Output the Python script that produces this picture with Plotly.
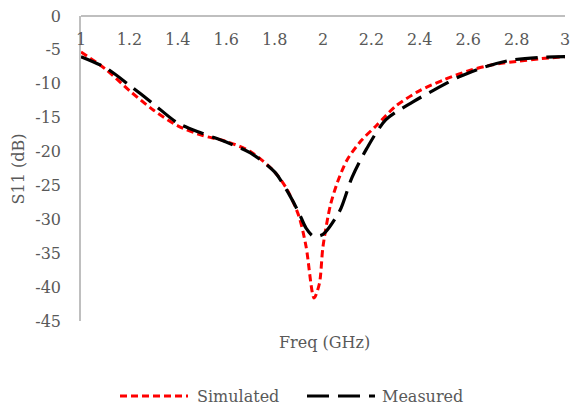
import plotly.graph_objects as go

sim_freq = [1.0, 1.1, 1.2, 1.3, 1.4, 1.5, 1.6, 1.7, 1.8, 1.85, 1.9, 1.93, 1.963,
            1.985, 2.0, 2.03, 2.06, 2.1, 2.16, 2.22, 2.3, 2.4, 2.5, 2.6, 2.7, 2.8, 2.9, 3.0]
sim_s11 = [-5.3, -7.8, -11.0, -13.9, -16.2, -17.6, -18.5, -20.0, -23.0, -25.5, -29.5, -34.0, -41.6,
           -39.5, -34.0, -28.0, -24.5, -21.2, -18.3, -16.2, -13.3, -11.0, -9.4, -8.1, -7.2, -6.7, -6.3, -6.0]

meas_freq = [1.0, 1.1, 1.2, 1.3, 1.4, 1.5, 1.6, 1.7, 1.8, 1.85, 1.9, 1.93, 1.96,
             1.99, 2.01, 2.07, 2.12, 2.18, 2.26, 2.37, 2.48, 2.56, 2.67, 2.78, 2.9, 3.0]
meas_s11 = [-6.0, -7.6, -10.2, -13.0, -15.8, -17.3, -18.6, -20.2, -23.0, -25.7, -29.0, -31.3, -32.5,
            -32.4, -31.9, -28.7, -23.8, -19.6, -15.3, -12.7, -10.5, -9.0, -7.5, -6.5, -6.1, -6.0]

x_ticks = [1, 1.2, 1.4, 1.6, 1.8, 2, 2.2, 2.4, 2.6, 2.8, 3]
x_labels = ["1", "1.2", "1.4", "1.6", "1.8", "2", "2.2", "2.4", "2.6", "2.8", "3"]
y_ticks = [0, -5, -10, -15, -20, -25, -30, -35, -40, -45]
y_labels = ["0", "-5", "-10", "-15", "-20", "-25", "-30", "-35", "-40", "-45"]

series_names = ["Simulated", "Measured"]
series_colors = ["#FF0000", "#000000"]
series_dash = ["7px,4px", "22px,9px"]
series_width = [3, 3.2]

FONT = "DejaVu Serif"
GRAY = "#595959"
FS = 16

fig = go.Figure()
fig.add_trace(go.Scatter(x=sim_freq, y=sim_s11, mode="lines", name=series_names[0], showlegend=False,
                         line=dict(color=series_colors[0], width=series_width[0], dash=series_dash[0],
                                   shape="spline", smoothing=0.8)))
fig.add_trace(go.Scatter(x=meas_freq, y=meas_s11, mode="lines", name=series_names[1], showlegend=False,
                         line=dict(color=series_colors[1], width=series_width[1], dash=series_dash[1],
                                   shape="spline", smoothing=0.8)))

# plot area in pixels: x 81..565, y 16..321
L, R, T, B = 81, 565, 16, 321
def px_x(p):
    return (p - L) / (R - L)
def px_y(p):
    return (B - p) / (B - T)

shapes = []
annotations = [
    dict(text="S11 (dB)", x=px_x(18), xref="paper", y=0.5, yref="paper", showarrow=False,
         textangle=-90, xanchor="center", yanchor="middle", font=dict(family=FONT, size=FS, color=GRAY)),
    dict(text="Freq (GHz)", x=px_x(324), xref="paper", y=px_y(342), yref="paper", showarrow=False,
         xanchor="center", yanchor="middle", font=dict(family=FONT, size=FS, color=GRAY)),
]
# manual legend
leg_y = px_y(396)
leg_items = [(120, 188, 195), (307, 375, 380)]
for (x0, x1, xt), name, col, dash, w in zip(leg_items, series_names, series_colors, series_dash, series_width):
    shapes.append(dict(type="line", xref="paper", yref="paper", x0=px_x(x0), x1=px_x(x1), y0=leg_y, y1=leg_y,
                       line=dict(color=col, width=w, dash=dash)))
    annotations.append(dict(text=name, x=px_x(xt), xref="paper", y=leg_y, yref="paper", showarrow=False,
                            xanchor="left", yanchor="middle", font=dict(family=FONT, size=FS, color=GRAY)))

fig.update_layout(
    width=571, height=408,
    margin=dict(l=L, r=571 - R, t=T, b=408 - B, autoexpand=False),
    plot_bgcolor="white", paper_bgcolor="white",
    font=dict(family=FONT, size=FS, color=GRAY),
    showlegend=False,
    xaxis=dict(range=[1, 3], tickvals=x_ticks, ticktext=x_labels, side="bottom",
               anchor="free", position=1, ticklabelstandoff=9,
               showline=True, linecolor="#BFBFBF", linewidth=1.5, mirror=False,
               showgrid=False, zeroline=False, ticks="",
               tickfont=dict(family=FONT, size=FS, color=GRAY)),
    yaxis=dict(range=[-45, 0], tickvals=y_ticks, ticktext=y_labels, showline=True,
               linecolor="#BFBFBF", linewidth=1.5,
               showgrid=False, zeroline=False, ticks="", ticklabelstandoff=15,
               tickfont=dict(family=FONT, size=FS, color=GRAY)),
    shapes=shapes,
    annotations=annotations,
)

fig.write_html("out.html")
